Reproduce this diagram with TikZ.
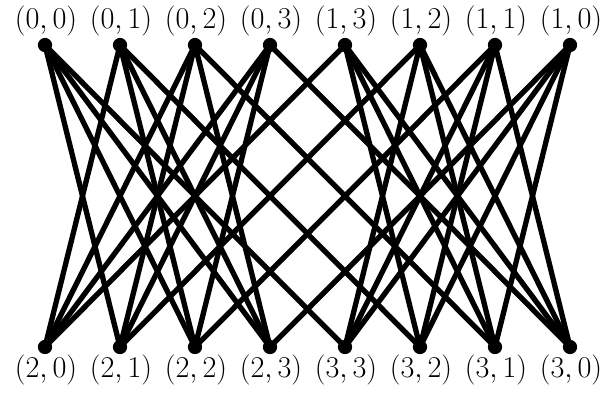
\documentclass[tikz,border=0pt]{standalone}
\usepackage{fix-cm}
\begin{document}
\begin{tikzpicture}[x=0.715pt,y=-0.715pt,
  vtx/.style={circle,fill=black,inner sep=0pt,minimum size=10.2pt},
  edge/.style={line width=3.8pt},
  lbl/.style={font=\fontsize{21.6}{26}\selectfont,anchor=base,inner sep=0pt}]
\useasboundingbox (0,0) rectangle (608,394);
\foreach \i/\lab in {0/{(0,0)},1/{(0,1)},2/{(0,2)},3/{(0,3)},4/{(1,3)},5/{(1,2)},6/{(1,1)},7/{(1,0)}} {
  \node[vtx] (t\i) at ({45+75*\i},45) {};
  \node[lbl] (tl\i) at ({46+75*\i},28) {$\lab$};
}
\foreach \i/\lab in {0/{(2,0)},1/{(2,1)},2/{(2,2)},3/{(2,3)},4/{(3,3)},5/{(3,2)},6/{(3,1)},7/{(3,0)}} {
  \node[vtx] (b\i) at ({45+75*\i},347) {};
  \node[lbl] (bl\i) at ({46+75*\i},377) {$\lab$};
}
\foreach \i/\js in {0/{1,2,3,4},1/{0,2,3,5},2/{0,1,3,6},3/{0,1,2,7},4/{0,5,6,7},5/{1,4,6,7},6/{2,4,5,7},7/{3,4,5,6}} {
  \foreach \j in \js {
    \draw[edge] (t\i.center) -- (b\j.center);
  }
}
\end{tikzpicture}
\end{document}
